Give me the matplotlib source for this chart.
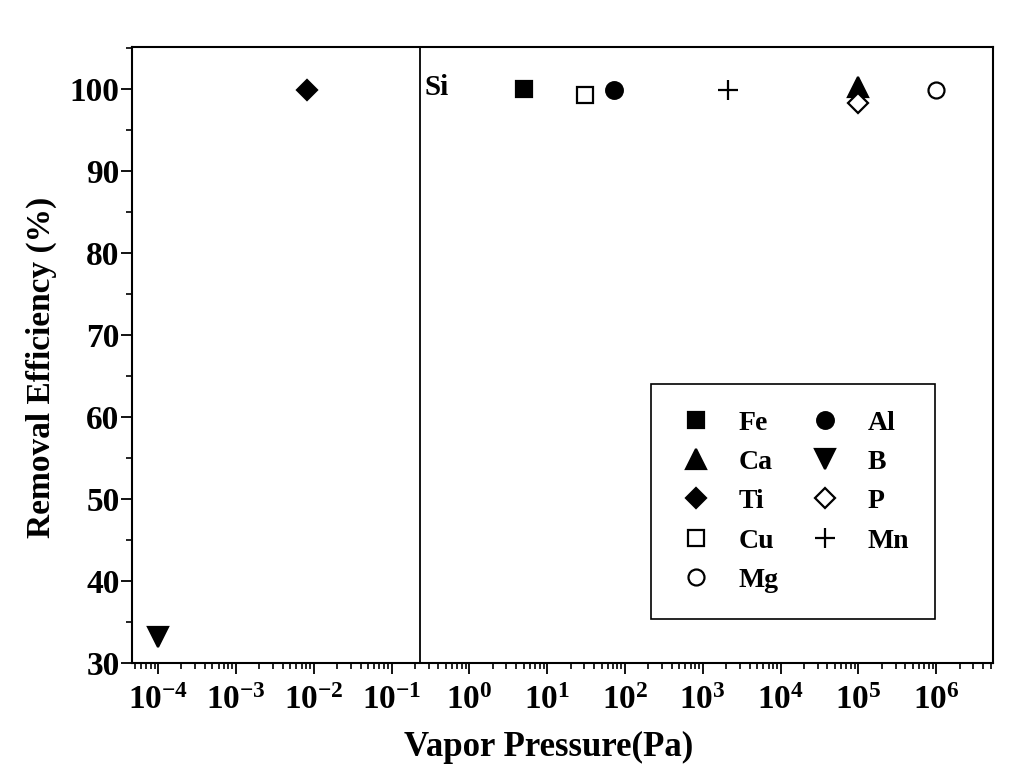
import matplotlib
matplotlib.use("Agg")
import matplotlib.pyplot as plt
from matplotlib.ticker import LogLocator, MultipleLocator, NullFormatter

plt.rcParams['font.family'] = ['Liberation Serif', 'DejaVu Serif']
plt.rcParams['font.weight'] = 'bold'
plt.rcParams['mathtext.fontset'] = 'custom'
plt.rcParams['mathtext.rm'] = 'Liberation Serif:bold'
plt.rcParams['mathtext.it'] = 'Liberation Serif:bold'
plt.rcParams['mathtext.bf'] = 'Liberation Serif:bold'

# Data: element, vapor pressure (Pa), removal efficiency (%)
elements = ['Fe', 'Al', 'Ca', 'B', 'Ti', 'P', 'Cu', 'Mn', 'Mg']
pressure = [5.0, 72.0, 1.0e5, 1.0e-4, 8.2e-3, 1.0e5, 31.0, 2.1e3, 1.0e6]
efficiency = [100.0, 99.9, 100.2, 33.2, 99.9, 98.3, 99.2, 99.9, 99.8]
markers = ['s', 'o', '^', 'v', 'D', 'D', 's', '+', 'o']
filled = [True, True, True, True, True, False, False, True, False]
sizes = [11, 12, 14, 15, 10, 10, 11, 15, 11.5]

si_pressure = 0.23
si_label = 'Si'

x_ticks = [1e-4, 1e-3, 1e-2, 1e-1, 1e0, 1e1, 1e2, 1e3, 1e4, 1e5, 1e6]
x_labels = ['$10^{-4}$', '$10^{-3}$', '$10^{-2}$', '$10^{-1}$', '$10^{0}$', '$10^{1}$',
            '$10^{2}$', '$10^{3}$', '$10^{4}$', '$10^{5}$', '$10^{6}$']
y_ticks = [30, 40, 50, 60, 70, 80, 90, 100]

fig = plt.figure(figsize=(10.25, 7.73), dpi=100)
ax = fig.add_axes([132/1025, 1-663/773, (993-132)/1025, (663-47)/773])

handles = {}
for el, p, e, m, f, s in zip(elements, pressure, efficiency, markers, filled, sizes):
    h, = ax.plot([p], [e], linestyle='none', marker=m, markersize=s,
                 markerfacecolor='black' if f else 'white',
                 markeredgecolor='black', markeredgewidth=1.6, label=el)
    handles[el] = h

ax.axvline(si_pressure, color='black', lw=1.3)
ax.text(si_pressure * 1.17, 100.2, si_label, fontsize=21, fontweight='bold',
        ha='left', va='center')

ax.set_xscale('log')
ax.set_xlim(10**-4.335, 10**6.73)
ax.set_ylim(30, 105.1)
ax.set_xticks(x_ticks)
ax.set_xticklabels(x_labels)
ax.xaxis.set_minor_locator(LogLocator(base=10, subs=range(2, 10), numticks=100))
ax.xaxis.set_minor_formatter(NullFormatter())
ax.set_yticks(y_ticks)
ax.yaxis.set_minor_locator(MultipleLocator(5))

ax.tick_params(which='major', direction='out', length=8, width=1.3, labelsize=24,
               top=False, right=False)
ax.tick_params(which='minor', direction='out', length=4.5, width=1.2,
               top=False, right=False)
ax.tick_params(axis='x', which='major', pad=8)
ax.tick_params(axis='y', which='major', pad=1)
for lab in ax.get_xticklabels() + ax.get_yticklabels():
    lab.set_fontweight('bold')
for sp in ax.spines.values():
    sp.set_linewidth(1.5)

ax.set_xlabel('Vapor Pressure(Pa)', fontsize=25, fontweight='bold')
ax.set_ylabel('Removal Efficiency (%)', fontsize=24, fontweight='bold')
ax.xaxis.set_label_coords((549 - 132) / 861, -(731 - 663) / 616)
ax.yaxis.set_label_coords(-(132 - 57) / 861, (663 - 367) / 616)

order = ['Fe', 'Ca', 'Ti', 'Cu', 'Mg', 'Al', 'B', 'P', 'Mn']
leg = ax.legend([handles[k] for k in order], order, ncol=2, loc='lower left',
                bbox_to_anchor=(0.603, 0.071), fancybox=False, framealpha=1,
                edgecolor='black', prop={'weight': 'bold', 'size': 20},
                handlelength=1.3, handletextpad=0.9, columnspacing=1.0,
                labelspacing=0.5, borderpad=0.95, borderaxespad=0.0)
leg.get_frame().set_linewidth(1.2)

fig.savefig('out.png', dpi=100)
